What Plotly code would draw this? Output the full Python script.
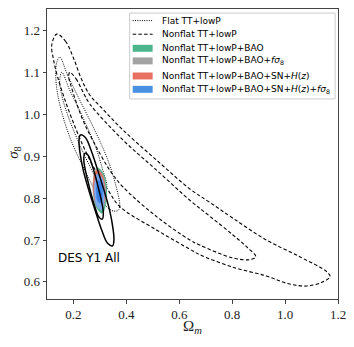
import plotly.graph_objects as go

# ---- contour outlines (Omega_m, sigma_8) ----
# Flat TT+lowP (dotted), 95% and 68%
flat95_om = [0.148, 0.178, 0.224, 0.280, 0.330, 0.360, 0.375, 0.371, 0.352, 0.318, 0.280, 0.243, 0.198, 0.164, 0.141, 0.133, 0.137, 0.148]
flat95_s8 = [1.137, 1.094, 1.034, 0.963, 0.891, 0.831, 0.784, 0.772, 0.769, 0.784, 0.820, 0.867, 0.927, 0.987, 1.046, 1.094, 1.125, 1.137]
flat68_om = [0.156, 0.186, 0.231, 0.281, 0.311, 0.326, 0.322, 0.303, 0.269, 0.224, 0.178, 0.156, 0.148, 0.156]
flat68_s8 = [1.101, 1.058, 0.999, 0.927, 0.867, 0.832, 0.815, 0.824, 0.867, 0.927, 0.999, 1.046, 1.082, 1.101]

# Nonflat TT+lowP (dashed), 95% and 68%
nf95_om = [0.137, 0.170, 0.200, 0.230, 0.262, 0.300, 0.387, 0.514, 0.640, 0.715, 0.803, 0.929, 1.055, 1.156, 1.170,
           1.143, 1.081, 1.010, 0.929, 0.803, 0.677, 0.640, 0.514, 0.375, 0.330, 0.280, 0.240, 0.200, 0.165,
           0.140, 0.125, 0.118, 0.137]
nf95_s8 = [1.192, 1.175, 1.135, 1.085, 1.046, 1.020, 0.963, 0.891, 0.822, 0.790, 0.752, 0.700, 0.660, 0.625, 0.613,
           0.600, 0.590, 0.596, 0.614, 0.635, 0.665, 0.678, 0.724, 0.780, 0.820, 0.870, 0.920, 0.980, 1.040,
           1.090, 1.130, 1.166, 1.192]
nf68_om = [0.186, 0.210, 0.235, 0.262, 0.387, 0.514, 0.640, 0.715, 0.803, 0.854, 0.889, 0.866, 0.803, 0.677,
           0.640, 0.514, 0.387, 0.337, 0.280, 0.240, 0.210, 0.190, 0.182, 0.186]
nf68_s8 = [1.101, 1.085, 1.055, 1.025, 0.939, 0.867, 0.795, 0.757, 0.712, 0.684, 0.660, 0.653, 0.657, 0.688,
           0.700, 0.756, 0.827, 0.867, 0.930, 0.980, 1.030, 1.070, 1.090, 1.101]

# DES Y1 All (solid), 95% and 68%
des95_om = [0.226, 0.245, 0.268, 0.290, 0.315, 0.337, 0.350, 0.353, 0.348, 0.329, 0.306, 0.284, 0.259, 0.237, 0.224, 0.221, 0.226]
des95_s8 = [0.951, 0.945, 0.912, 0.870, 0.820, 0.770, 0.725, 0.700, 0.686, 0.692, 0.725, 0.767, 0.817, 0.867, 0.912, 0.937, 0.951]
des68_om = [0.243, 0.256, 0.270, 0.284, 0.296, 0.307, 0.313, 0.309, 0.296, 0.282, 0.268, 0.256, 0.245, 0.239, 0.243]
des68_s8 = [0.907, 0.902, 0.880, 0.850, 0.820, 0.790, 0.765, 0.750, 0.755, 0.777, 0.807, 0.837, 0.867, 0.892, 0.907]

# filled contours
bao95_om = [0.292, 0.313, 0.325, 0.321, 0.308, 0.287, 0.275, 0.279, 0.292]
bao95_s8 = [0.872, 0.858, 0.822, 0.783, 0.764, 0.778, 0.814, 0.853, 0.872]
baof95_om = [0.291, 0.310, 0.321, 0.318, 0.305, 0.286, 0.275, 0.278, 0.291]
baof95_s8 = [0.868, 0.856, 0.823, 0.787, 0.772, 0.784, 0.817, 0.853, 0.868]
sn95_om = [0.289, 0.307, 0.318, 0.315, 0.305, 0.287, 0.276, 0.279, 0.289]
sn95_s8 = [0.868, 0.857, 0.825, 0.790, 0.776, 0.787, 0.819, 0.854, 0.868]
snf95_om = [0.291, 0.307, 0.316, 0.313, 0.305, 0.289, 0.280, 0.283, 0.291]
snf95_s8 = [0.858, 0.848, 0.818, 0.786, 0.772, 0.782, 0.812, 0.844, 0.858]
snf68_om = [0.294, 0.304, 0.309, 0.307, 0.302, 0.292, 0.287, 0.289, 0.294]
snf68_s8 = [0.842, 0.836, 0.816, 0.796, 0.788, 0.794, 0.814, 0.834, 0.842]

x_ticks = [0.2, 0.4, 0.6, 0.8, 1.0, 1.2]
y_ticks = [0.6, 0.7, 0.8, 0.9, 1.0, 1.1, 1.2]

legend_labels = ['Flat TT+lowP',
                 'Nonflat TT+lowP',
                 'Nonflat TT+lowP+BAO',
                 'Nonflat TT+lowP+BAO+<i>fσ</i><sub>8</sub>',
                 'Nonflat TT+lowP+BAO+SN+<i>H</i>(<i>z</i>)',
                 'Nonflat TT+lowP+BAO+SN+<i>H</i>(<i>z</i>)+<i>fσ</i><sub>8</sub>']
fill_colors = ['rgb(76,181,140)', 'rgb(163,163,163)', 'rgb(232,112,98)', 'rgb(74,144,226)']

DASH = '3.5px,2.2px'
DOT = '1px,1.3px'

fig = go.Figure()


def line(om, s8, dash, width):
    fig.add_trace(go.Scatter(x=om, y=s8, mode='lines', showlegend=False, hoverinfo='skip',
                             line=dict(color='black', dash=dash, width=width, shape='spline', smoothing=1)))


def fill(om, s8, color):
    fig.add_trace(go.Scatter(x=om, y=s8, mode='lines', fill='toself', fillcolor=color, showlegend=False,
                             hoverinfo='skip', line=dict(color=color, width=0.8, shape='spline', smoothing=1)))


line(flat95_om, flat95_s8, DOT, 1)
line(flat68_om, flat68_s8, DOT, 1)
line(nf95_om, nf95_s8, DASH, 1.1)
line(nf68_om, nf68_s8, DASH, 1.1)

fill(bao95_om, bao95_s8, fill_colors[0])
fill(baof95_om, baof95_s8, fill_colors[1])
fill(sn95_om, sn95_s8, fill_colors[2])
fill(snf95_om, snf95_s8, 'rgb(120,170,240)')
fill(snf68_om, snf68_s8, 'rgb(60,130,230)')

line(des95_om, des95_s8, 'solid', 1.5)
line(des68_om, des68_s8, 'solid', 1.5)

fig.add_annotation(x=0.135, y=0.657, text='DES Y1 All', showarrow=False, xanchor='left', yanchor='middle',
                   font=dict(family='DejaVu Sans', size=12, color='black'))

# legend drawn by hand so the rows can sit as close as in the reference
fig.add_shape(type='rect', xref='paper', yref='paper', x0=0.284, x1=0.990, y0=0.690, y1=0.986,
              line=dict(color='#cccccc', width=1), fillcolor='white', layer='above')
row_y = [0.960, 0.913, 0.8645, 0.821, 0.769, 0.723]
for i, (label, ry) in enumerate(zip(legend_labels, row_y)):
    if i < 2:
        fig.add_shape(type='line', xref='paper', yref='paper', x0=0.2945, x1=0.363, y0=ry, y1=ry,
                      line=dict(color='black', width=1, dash=DOT if i == 0 else DASH), layer='above')
    else:
        fig.add_shape(type='rect', xref='paper', yref='paper', x0=0.2945, x1=0.363, y0=ry - 0.012, y1=ry + 0.012,
                      line=dict(width=0), fillcolor=fill_colors[i - 2], layer='above')
    fig.add_annotation(xref='paper', yref='paper', x=0.387, y=ry, text=label, showarrow=False,
                       xanchor='left', yanchor='middle', font=dict(family='DejaVu Sans', size=9, color='black'))

# axis titles
fig.add_annotation(xref='paper', yref='paper', x=0.5, y=-0.097, text='Ω<sub><i>m</i></sub>', showarrow=False,
                   xanchor='center', yanchor='middle', borderpad=0,
                   font=dict(family='Liberation Serif', size=15, color='#222'))
fig.add_annotation(xref='paper', yref='paper', x=-0.114, y=0.507, text='<i>σ</i><sub>8</sub>', showarrow=False,
                   textangle=-90, xanchor='center', yanchor='middle', font=dict(family='Liberation Serif', size=15, color='#222'))

axis_common = dict(showgrid=False, zeroline=False, showline=True, mirror=True, linecolor='#444', linewidth=1,
                   ticks='outside', ticklen=3.5, tickcolor='#444', automargin=False,
                   tickfont=dict(family='Liberation Serif', size=13, color='#222'))
fig.update_xaxes(range=[0.1, 1.2], tickvals=x_ticks, ticktext=['0.2', '0.4', '0.6', '0.8', '1.0', '1.2'], **axis_common)
fig.update_yaxes(range=[0.559, 1.252], tickvals=y_ticks, ticktext=['0.6', '0.7', '0.8', '0.9', '1.0', '1.1', '1.2'], **axis_common)

fig.update_layout(width=354, height=347, margin=dict(l=47, r=16, t=9, b=48),
                  plot_bgcolor='white', paper_bgcolor='white', showlegend=False)

# the page's default body margin would shift the figure by 8 px
fig.write_html("out.html", config={'displayModeBar': False},
               post_script="document.body.style.margin='0';")
